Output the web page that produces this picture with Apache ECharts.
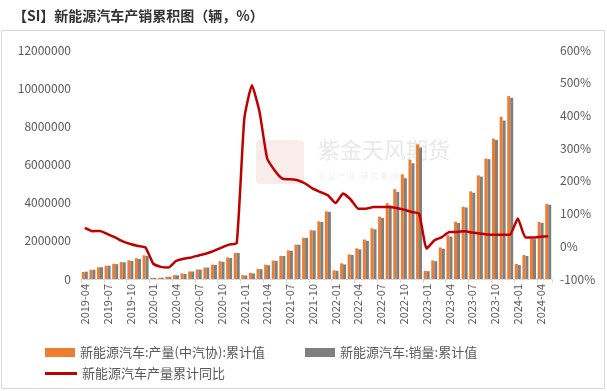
<!DOCTYPE html>
<html>
<head>
<meta charset="utf-8">
<script src="https://cdn.jsdelivr.net/npm/echarts@6/dist/echarts.min.js"></script>
<style>
html,body{margin:0;padding:0;background:#fff;}
#c{width:607px;height:391px;}
</style>
</head>
<body>
<div id="c"></div>
<script>
var categories = [
 '2019-04','2019-05','2019-06','2019-07','2019-08','2019-09','2019-10','2019-11','2019-12',
 '2020-01','2020-02','2020-03','2020-04','2020-05','2020-06','2020-07','2020-08','2020-09','2020-10','2020-11','2020-12',
 '2021-01','2021-02','2021-03','2021-04','2021-05','2021-06','2021-07','2021-08','2021-09','2021-10','2021-11','2021-12',
 '2022-01','2022-02','2022-03','2022-04','2022-05','2022-06','2022-07','2022-08','2022-09','2022-10','2022-11','2022-12',
 '2023-01','2023-02','2023-03','2023-04','2023-05','2023-06','2023-07','2023-08','2023-09','2023-10','2023-11','2023-12',
 '2024-01','2024-02','2024-03','2024-04','2024-05'
];
var production = [
 368000,481000,614000,698000,799000,888000,983000,1090000,1242000,
 55000,65000,115000,205000,290000,395000,500000,605000,750000,930000,1135000,1366000,
 200000,324000,533000,750000,967000,1215000,1500000,1800000,2160000,2560000,3020000,3545000,
 452000,820000,1293000,1605000,2070000,2661000,3274000,3971000,4710000,5485000,6253000,7058000,
 425000,977000,1650000,2291000,3000000,3788000,4594000,5430000,6313000,7356000,8500000,9587000,
 787000,1252000,2115000,2985000,3926000
];
var sales = [
 384000,488000,617000,697000,782000,872000,947000,1043000,1206000,
 60000,70000,120000,190000,270000,395000,490000,600000,740000,900000,1100000,1367000,
 179000,289000,515000,721000,950000,1206000,1478000,1799000,2157000,2540000,2990000,3521000,
 431000,765000,1257000,1556000,2003000,2600000,3194000,3862000,4567000,5280000,6065000,6887000,
 408000,933000,1586000,2222000,2940000,3747000,4522000,5366000,6279000,7280000,8302000,9495000,
 729000,1207000,2088000,2940000,3895000
];
var yoy = [
 56,46,47,37,27,15,7,1,-4,
 -53,-63,-65,-45,-38,-34,-28,-22,-14,-4,5,10,
 391,492,411,269,232,207,205,202,192,176,166,156,
 132,161,143,115,115,120,120,120,117,112,105,100,
 -7,18,28,44,44,46,42,39,36,35,35,36,
 85,27,27,29,31
];
var leftTicks = {min:0, max:12000000, interval:2000000};
var rightTicks = {min:-100, max:600, interval:100};

var FONT = '"Noto Sans CJK SC", "Noto Sans", sans-serif';
var chart = echarts.init(document.getElementById('c'), null, {renderer:'canvas'});
var option = {
  animation:false,
  backgroundColor:'#fff',
  textStyle:{fontFamily:FONT},
  title:{
    text:'【SI】新能源汽车产销累积图（辆，%）',
    left:8, top:4,
    textStyle:{fontSize:14, fontWeight:'bold', color:'#333', fontFamily:FONT}
  },
  graphic:[
    {type:'rect', shape:{x:1.5,y:30.5,width:603,height:358}, style:{fill:'none', stroke:'#d9d9d9', lineWidth:1}, silent:true, z:-1},
    {type:'text', left:318, top:139, style:{text:'紫金天风期货', fill:'#e8e8e8', font:'22px '+FONT}, silent:true, z:-1},
    {type:'text', left:318, top:172, style:{text:'立 足 产 业   研 究 驱 动', fill:'#eeeeee', font:'8px '+FONT}, silent:true, z:-1},
    {type:'rect', shape:{x:256,y:140,width:48,height:44,r:4}, style:{fill:'#fbecec'}, silent:true, z:-1}
  ],
  legend:[
    {data:[{name:'新能源汽车:产量(中汽协):累计值', icon:'rect'}], left:40, top:341, itemWidth:30, itemHeight:9, itemGap:5,
     textStyle:{fontSize:13, color:'#595959', fontFamily:FONT}},
    {data:[{name:'新能源汽车:销量:累计值', icon:'rect'}], left:300, top:341, itemWidth:30, itemHeight:9,
     textStyle:{fontSize:13, color:'#595959', fontFamily:FONT}},
    {data:[{name:'新能源汽车产量累计同比', icon:'rect'}], left:40, top:362, itemWidth:32, itemHeight:3,
     textStyle:{fontSize:13, color:'#595959', fontFamily:FONT}}
  ],
  grid:{left:81, right:55, top:50, bottom:112, containLabel:false},
  xAxis:{
    type:'category', data:categories,
    axisLine:{show:true, lineStyle:{color:'#d9d9d9'}},
    axisTick:{show:true, interval:2, length:4, lineStyle:{color:'#d9d9d9'}},
    axisLabel:{interval:2, rotate:90, fontSize:11, color:'#595959', margin:5, fontFamily:FONT}
  },
  yAxis:[
    {type:'value', min:leftTicks.min, max:leftTicks.max, interval:leftTicks.interval,
     splitLine:{show:false}, axisLine:{show:false}, axisTick:{show:false},
     axisLabel:{fontSize:12, color:'#595959', margin:10, fontFamily:FONT, formatter:function(v){return String(v);}}},
    {type:'value', min:rightTicks.min, max:rightTicks.max, interval:rightTicks.interval,
     splitLine:{show:false}, axisLine:{show:false}, axisTick:{show:false},
     axisLabel:{fontSize:12, color:'#595959', margin:8, formatter:'{value}%', fontFamily:FONT}}
  ],
  series:[
    {name:'新能源汽车:产量(中汽协):累计值', type:'bar', data:production, yAxisIndex:0,
     barWidth:3, barGap:'0%', itemStyle:{color:'#ED7D31'}},
    {name:'新能源汽车:销量:累计值', type:'bar', data:sales, yAxisIndex:0,
     barWidth:3, itemStyle:{color:'#7F7F7F'}},
    {name:'新能源汽车产量累计同比', type:'line', data:yoy, yAxisIndex:1,
     symbol:'none', smooth:0.15, lineStyle:{color:'#C00000', width:2.5}, itemStyle:{color:'#C00000'}, z:5}
  ]
};
chart.setOption(option);
</script>
</body>
</html>
